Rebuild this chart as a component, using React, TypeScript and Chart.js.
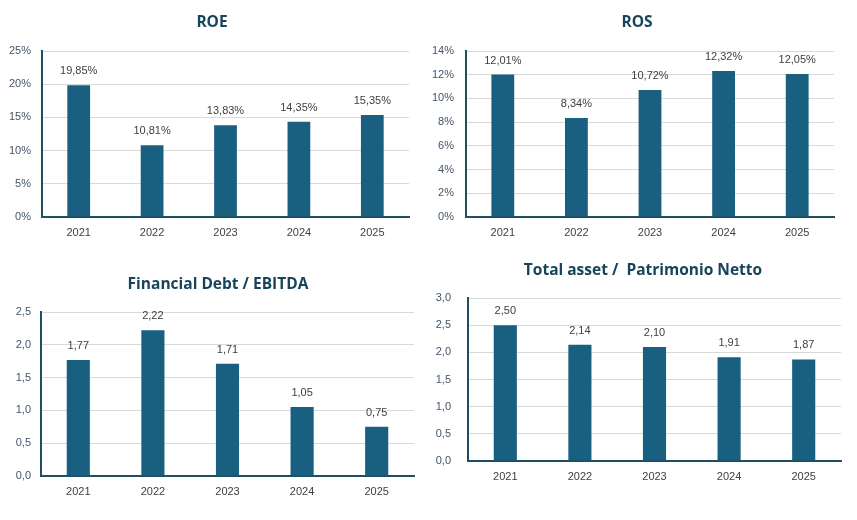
import { useEffect, useRef } from "react";
import { Chart, registerables } from "chart.js";

Chart.register(...registerables);

const years = ["2021", "2022", "2023", "2024", "2025"];

const roeValues = [19.85, 10.81, 13.83, 14.35, 15.35];
const rosValues = [12.01, 8.34, 10.72, 12.32, 12.05];
const debtEbitdaValues = [1.77, 2.22, 1.71, 1.05, 0.75];
const assetEquityValues = [2.5, 2.14, 2.1, 1.91, 1.87];

const BAR = "#185F80";
const AXIS = "#1F4E61";
const GRID = "#D9D9D9";
const TITLE = "#17445A";
const TICK_Y = "#44546A";
const TEXT = "#404040";
const FONT = "'Liberation Sans', Arial, sans-serif";

const comma = (v: number, digits: number) => v.toFixed(digits).replace(".", ",");

type Panel = {
  title: string;
  values: number[];
  max: number;
  step: number;
  percent: boolean;
  frame: { x: number; y: number; w: number; h: number };
  plot: { l: number; t: number; r: number; b: number };
  titleY: number;
  titleX: number;
  tickPad: number;
};

const panels: Panel[] = [
  {
    title: "ROE",
    values: roeValues,
    max: 25,
    step: 5,
    percent: true,
    frame: { x: 0, y: 0, w: 428, h: 255 },
    plot: { l: 42, t: 51, r: 409, b: 217 },
    titleY: 23,
    titleX: 212,
    tickPad: 11,
  },
  {
    title: "ROS",
    values: rosValues,
    max: 14,
    step: 2,
    percent: true,
    frame: { x: 420, y: 0, w: 437, h: 255 },
    plot: { l: 46, t: 51, r: 414, b: 217 },
    titleY: 23,
    titleX: 217,
    tickPad: 12,
  },
  {
    title: "Financial Debt / EBITDA",
    values: debtEbitdaValues,
    max: 2.5,
    step: 0.5,
    percent: false,
    frame: { x: 0, y: 255, w: 428, h: 265 },
    plot: { l: 41, t: 57, r: 414, b: 221 },
    titleY: 30,
    titleX: 218,
    tickPad: 10,
  },
  {
    title: "Total asset /  Patrimonio Netto",
    values: assetEquityValues,
    max: 3,
    step: 0.5,
    percent: false,
    frame: { x: 420, y: 255, w: 437, h: 265 },
    plot: { l: 48, t: 43, r: 421, b: 206 },
    titleY: 16,
    titleX: 223,
    tickPad: 17,
  },
];

// value labels above the bars plus the panel title at a fixed spot
const panelText = {
  id: "panelText",
  afterDatasetsDraw(
    chart: Chart,
    _args: unknown,
    opts: { percent: boolean; title: string; x: number; y: number },
  ) {
    const { ctx } = chart;
    const meta = chart.getDatasetMeta(0);
    const data = chart.data.datasets[0].data as number[];
    ctx.save();
    ctx.font = `11px ${FONT}`;
    ctx.fillStyle = TEXT;
    ctx.textAlign = "center";
    ctx.textBaseline = "middle";
    meta.data.forEach((bar, i) => {
      const txt = comma(data[i], 2) + (opts.percent ? "%" : "");
      ctx.fillText(txt, bar.x, bar.y - 14);
    });
    ctx.font = `bold 15.5px 'Open Sans', sans-serif`;
    ctx.fillStyle = TITLE;
    ctx.fillText(opts.title, opts.x, opts.y);
    ctx.restore();
  },
};

function BarPanel({ panel }: { panel: Panel }) {
  const canvasRef = useRef<HTMLCanvasElement | null>(null);

  useEffect(() => {
    const canvas = canvasRef.current;
    if (!canvas) return;
    const { frame, plot } = panel;

    const chart = new Chart(canvas, {
      type: "bar",
      data: {
        labels: years,
        datasets: [
          {
            data: panel.values,
            backgroundColor: BAR,
            categoryPercentage: 1,
            barPercentage: 0.31,
          },
        ],
      },
      options: {
        responsive: true,
        maintainAspectRatio: false,
        animation: false,
        layout: {
          padding: { left: 0, right: frame.w - plot.r, top: plot.t, bottom: 0 },
        },
        plugins: {
          legend: { display: false },
          tooltip: { enabled: false },
          title: { display: false },
          panelText: {
            percent: panel.percent,
            title: panel.title,
            x: panel.titleX,
            y: panel.titleY,
          },
        } as any,
        scales: {
          x: {
            grid: { display: false, drawTicks: false },
            border: { color: AXIS, width: 2 },
            ticks: { color: TEXT, font: { family: FONT, size: 11 }, padding: 9 },
            afterFit: (scale) => {
              scale.height = frame.h - plot.b;
            },
          },
          y: {
            min: 0,
            max: panel.max,
            grid: { color: GRID, lineWidth: 1, drawTicks: false },
            border: { color: AXIS, width: 2 },
            ticks: {
              stepSize: panel.step,
              color: TICK_Y,
              font: { family: FONT, size: 11 },
              padding: panel.tickPad,
              callback: (v) =>
                panel.percent ? `${Number(v).toFixed(0)}%` : comma(Number(v), 1),
            },
            afterFit: (scale) => {
              scale.width = plot.l;
            },
          },
        },
      },
      plugins: [panelText],
    });

    return () => {
      chart.destroy();
    };
  }, [panel]);

  const { frame } = panel;
  return (
    <div
      style={{
        position: "absolute",
        left: frame.x,
        top: frame.y,
        width: frame.w,
        height: frame.h,
      }}
    >
      <canvas ref={canvasRef} />
    </div>
  );
}

export default function App() {
  return (
    <div
      style={{
        position: "absolute",
        left: 0,
        top: 0,
        width: 857,
        height: 520,
        background: "#ffffff",
      }}
    >
      {panels.map((p) => (
        <BarPanel key={p.title} panel={p} />
      ))}
    </div>
  );
}
